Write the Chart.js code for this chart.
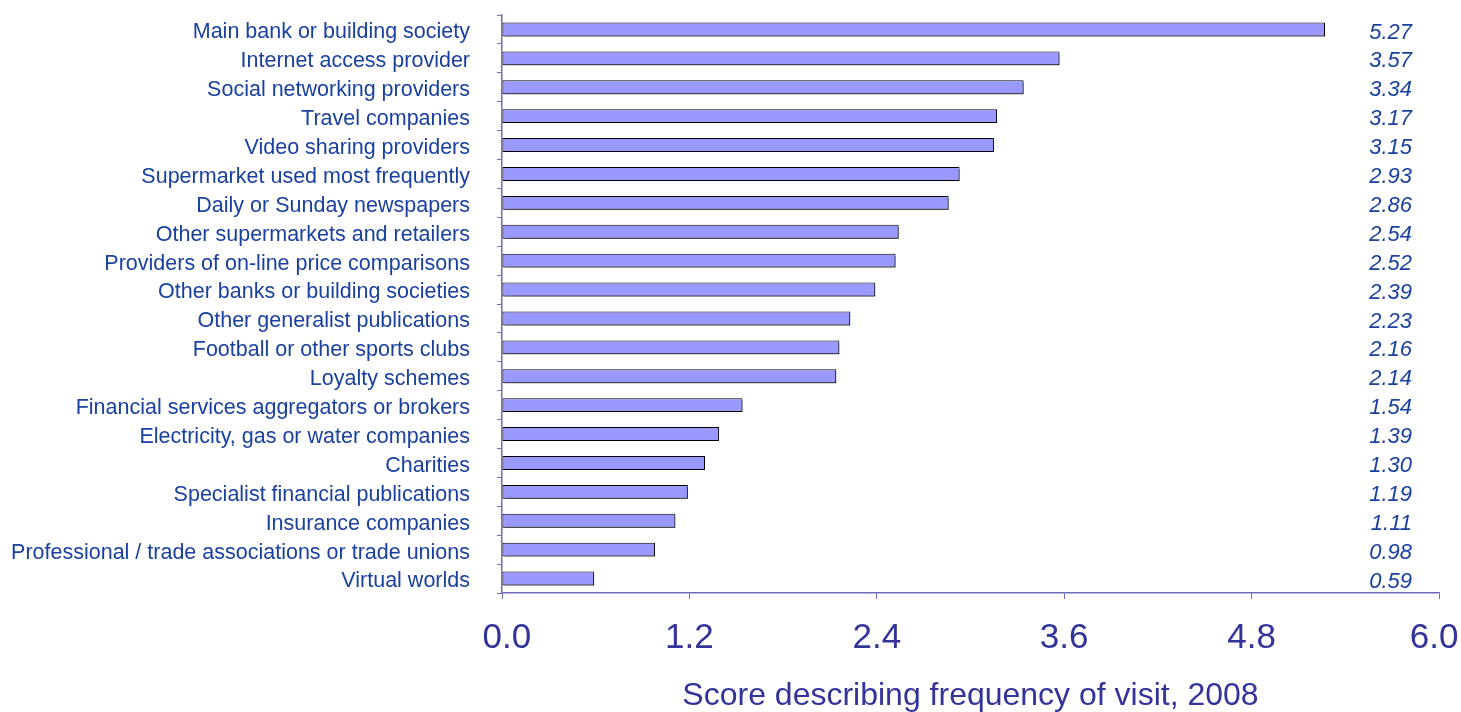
<!DOCTYPE html>
<html lang="en">

<head>
    <meta charset="UTF-8">
    <title>Score describing frequency of visit, 2008</title>
    <script src="https://cdn.jsdelivr.net/npm/chart.js"></script>
    <style>
        body {
            margin: 0;
            padding: 0;
            background-color: white;
        }

        #chart {
            display: block;
        }
    </style>
</head>

<body>
    <canvas id="chart" width="1461" height="712"></canvas>

    <script>
        const categories = [
            "Main bank or building society",
            "Internet access provider",
            "Social networking providers",
            "Travel companies",
            "Video sharing providers",
            "Supermarket used most frequently",
            "Daily or Sunday newspapers",
            "Other supermarkets and retailers",
            "Providers of on-line price comparisons",
            "Other banks or building societies",
            "Other generalist publications",
            "Football or other sports clubs",
            "Loyalty schemes",
            "Financial services aggregators or brokers",
            "Electricity, gas or water companies",
            "Charities",
            "Specialist financial publications",
            "Insurance companies",
            "Professional / trade associations or trade unions",
            "Virtual worlds"
        ];
        const scores = [5.27, 3.57, 3.34, 3.17, 3.15, 2.93, 2.86, 2.54, 2.52, 2.39,
            2.23, 2.16, 2.14, 1.54, 1.39, 1.30, 1.19, 1.11, 0.98, 0.59];
        const xTicks = [0, 1.2, 2.4, 3.6, 4.8, 6.0];

        const labelColor = "#1a41a0";
        const axisTextColor = "#333399";
        const axisLineColor = "#6e6eb8";

        // gray drop shadow behind the bars
        const barShadow = {
            id: "barShadow",
            beforeDatasetsDraw(chart) {
                const c = chart.ctx;
                c.save();
                c.shadowColor = "rgba(0, 0, 0, 0.45)";
                c.shadowOffsetX = 2;
                c.shadowOffsetY = 2;
                c.shadowBlur = 0;
            },
            afterDatasetsDraw(chart) {
                chart.ctx.restore();
            }
        };

        // value column on the right
        const valueColumn = {
            id: "valueColumn",
            afterDraw(chart) {
                const c = chart.ctx;
                const yScale = chart.scales.y;
                const x = chart.chartArea.right - 27;
                c.save();
                c.font = "italic 22px Arial, 'Liberation Sans', sans-serif";
                c.fillStyle = labelColor;
                c.textAlign = "right";
                c.textBaseline = "middle";
                scores.forEach((v, i) => {
                    c.fillText(v.toFixed(2), x, yScale.getPixelForValue(i) + 3);
                });
                c.restore();
            }
        };

        const ctx = document.getElementById("chart").getContext("2d");
        new Chart(ctx, {
            type: "bar",
            data: {
                labels: categories,
                datasets: [
                    {
                        label: "Score",
                        data: scores,
                        backgroundColor: "#9999ff",
                        borderColor: "#000000",
                        borderWidth: 1,
                        borderSkipped: false,
                        barPercentage: 0.48,
                        categoryPercentage: 1.0,
                    },
                ],
            },
            options: {
                indexAxis: "y",
                responsive: false,
                animation: false,
                layout: {
                    padding: { top: 15, right: 22, bottom: 0, left: 0 },
                },
                plugins: {
                    legend: { display: false },
                    tooltip: { enabled: false },
                },
                scales: {
                    x: {
                        min: 0,
                        max: 6,
                        afterBuildTicks(scale) {
                            scale.ticks = xTicks.map(v => ({ value: v }));
                        },
                        afterFit(scale) {
                            scale.height = 119;
                            scale.paddingLeft = 0;
                            scale.paddingRight = 0;
                        },
                        grid: {
                            drawOnChartArea: false,
                            drawTicks: true,
                            tickLength: 6,
                            color: axisLineColor,
                        },
                        border: { color: axisLineColor, width: 1.5 },
                        ticks: {
                            color: axisTextColor,
                            padding: 18,
                            maxRotation: 0,
                            font: { family: "Arial, 'Liberation Sans', sans-serif", size: 35 },
                            // keep the end labels inside the page
                            callback: value => {
                                const s = Number(value).toFixed(1);
                                if (value === 0) return " " + s;
                                if (value === 6) return s + " ";
                                return s;
                            },
                        },
                        title: {
                            display: true,
                            text: "Score describing frequency of visit, 2008",
                            color: axisTextColor,
                            padding: { top: 0, bottom: 0 },
                            font: { family: "Arial, 'Liberation Sans', sans-serif", size: 32, lineHeight: 1 },
                        },
                    },
                    y: {
                        afterFit(scale) {
                            scale.width = 502;
                            scale.paddingTop = 0;
                            scale.paddingBottom = 0;
                        },
                        grid: {
                            offset: true,
                            drawOnChartArea: false,
                            drawTicks: true,
                            tickLength: 5,
                            color: axisLineColor,
                        },
                        border: { color: axisLineColor, width: 1.5 },
                        ticks: {
                            color: labelColor,
                            padding: 27,
                            labelOffset: 3,
                            autoSkip: false,
                            font: { family: "Arial, 'Liberation Sans', sans-serif", size: 21.5 },
                        },
                    },
                },
            },
            plugins: [barShadow, valueColumn],
        });
    </script>
</body>

</html>
